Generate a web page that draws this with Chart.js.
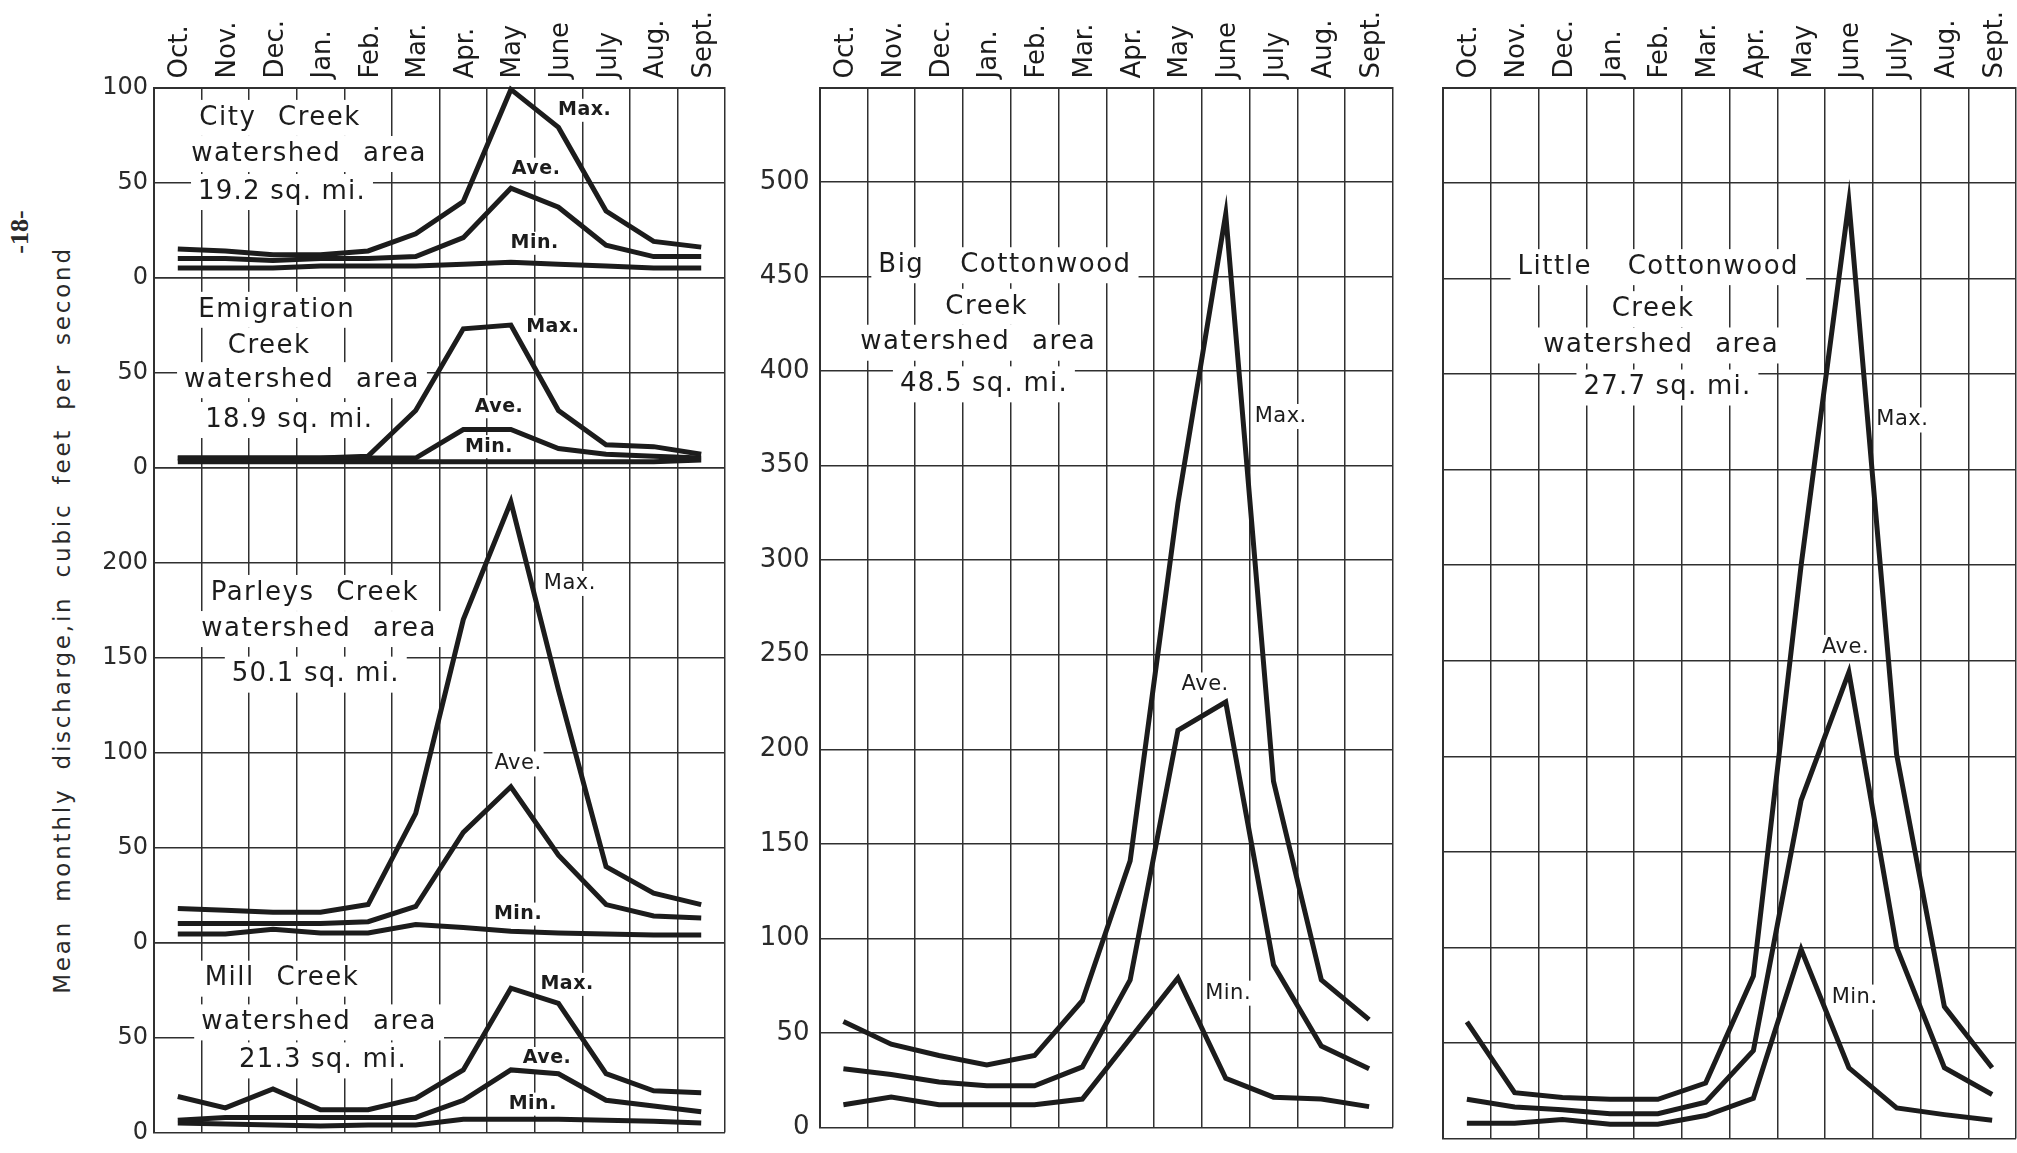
<!DOCTYPE html>
<html>
<head>
<meta charset="utf-8">
<script src="https://cdn.jsdelivr.net/npm/chart.js@4.4.1/dist/chart.umd.min.js"></script>
<style>
  html, body { margin: 0; padding: 0; background: #fff; }
  #page { position: relative; width: 2017px; height: 1153px; overflow: hidden; background: #fff;
          font-family: 'DejaVu Sans', sans-serif; color: #222; }
  .panel { position: absolute; top: 0; height: 1153px; }
  #left  { left: 80px;   width: 660px; }
  #mid   { left: 740px;  width: 680px; }
  #right { left: 1420px; width: 597px; }
  #ytitle { position: absolute; left: 62px; top: 620px; white-space: nowrap;
            transform: translate(-50%, -50%) rotate(-90deg);
            font-size: 23px; letter-spacing: 2.8px; word-spacing: 8px; color: #2a2a2a; }
  #pageno { position: absolute; left: 20px; top: 232px; white-space: nowrap;
            transform: translate(-50%, -50%) rotate(-90deg);
            font-family: 'Liberation Serif', serif; font-weight: bold; font-size: 26px; color: #2a2a2a; }
</style>
</head>
<body>
<div id="page">
  <div id="pageno">-18-</div>
  <div id="ytitle">Mean monthly discharge,in cubic feet per second</div>
  <div class="panel" id="left"><canvas id="left-chart"></canvas></div>
  <div class="panel" id="mid"><canvas id="mid-chart"></canvas></div>
  <div class="panel" id="right"><canvas id="right-chart"></canvas></div>
</div>
<script>
// Mean monthly discharge of Wasatch creeks (cfs), water year Oct..Sept

const months = ['Oct.', 'Nov.', 'Dec.', 'Jan.', 'Feb.', 'Mar.', 'Apr.', 'May', 'June', 'July', 'Aug.', 'Sept.'];

const cityMax = [15, 14, 12, 12, 14, 23, 40, 99, 79, 35, 19, 16];
const cityAve = [10, 10, 9, 10, 10, 11, 21, 47, 37, 17, 11, 11];
const cityMin = [5, 5, 5, 6, 6, 6, 7, 8, 7, 6, 5, 5];

const emigMax = [5, 5, 5, 5, 6, 30, 73, 75, 30, 12, 11, 7];
const emigAve = [5, 5, 5, 5, 5, 5, 20, 20, 10, 7, 6, 5];
const emigMin = [3, 3, 3, 3, 3, 3, 3, 3, 3, 3, 3, 4];

const parlMax = [18, 17, 16, 16, 20, 68, 170, 232, 133, 40, 26, 20];
const parlAve = [10, 10, 10, 10, 11, 19, 58, 82, 46, 20, 14, 13];
const parlMin = [4.5, 4.5, 7, 5, 5, 9.5, 8, 6, 5, 4.5, 4, 4];

const millMax = [19, 13, 23, 12, 12, 18, 33, 76, 68, 31, 22, 21];
const millAve = [6.5, 8, 8, 8, 8, 8, 17, 33, 31, 17, 14, 11];
const millMin = [5, 4.5, 4, 3.5, 4, 4, 7, 7, 7, 6.5, 6, 5];

const bigMax = [56, 44, 38, 33, 38, 67, 141, 330, 483, 183, 78, 57];
const bigAve = [31, 28, 24, 22, 22, 32, 78, 210, 225, 86, 43, 31];
const bigMin = [12, 16, 12, 12, 12, 15, 47, 79, 26, 16, 15, 11];

const littleMax = [61, 24, 21.5, 20.5, 20.5, 29, 85, 300, 490, 201, 69, 37];
const littleAve = [20.5, 16.5, 15, 13, 13, 19, 46, 177, 244, 100, 37, 23];
const littleMin = [8, 8, 10, 7.5, 7.5, 12, 21, 99, 37, 16, 12.5, 9.5];

const FONT = "'DejaVu Sans', sans-serif";
const INK = '#1c1c1c';
const GRID = '#303030';

Chart.defaults.font.family = FONT;
Chart.defaults.color = INK;

function series(data, yAxisID) {
    return {
        data: data,
        yAxisID: yAxisID,
        borderColor: INK,
        borderWidth: 5,
        borderJoinStyle: 'miter',
        pointRadius: 0,
        pointHoverRadius: 0,
        tension: 0,
        fill: false,
        clip: false
    };
}

// text boxes (creek names, Max./Ave./Min.) drawn on white patches over the grid
const TEXT_STYLES = {
    name: { font: '26px ' + FONT, ls: '1.5px', ws: '12px', h: 26, padX: 7, padY: 5 },
    wide: { font: '26px ' + FONT, ls: '1.5px', ws: '26px', h: 26, padX: 7, padY: 5 },
    area: { font: '26px ' + FONT, ls: '1.2px', ws: '0px', h: 26, padX: 7, padY: 5 },
    tagBold: { font: 'bold 19px ' + FONT, ls: '0.5px', ws: '0px', h: 19, padX: 2, padY: 2 },
    tag: { font: '21px ' + FONT, ls: '0.5px', ws: '0px', h: 21, padX: 2, padY: 2 }
};

function note(text, x, y, axis, kind) {
    return { text, x, y, axis, kind };
}

function notesPlugin(items) {
    return {
        id: 'notes',
        beforeDatasetsDraw(chart) {
            const ctx = chart.ctx;
            const xScale = chart.scales.x;
            items.forEach(n => {
                const st = TEXT_STYLES[n.kind];
                const px = xScale.getPixelForValue(n.x);
                const py = chart.scales[n.axis].getPixelForValue(n.y);
                ctx.save();
                ctx.font = st.font;
                if ('letterSpacing' in ctx) ctx.letterSpacing = st.ls;
                if ('wordSpacing' in ctx) ctx.wordSpacing = st.ws;
                const w = ctx.measureText(n.text).width;
                ctx.fillStyle = '#fff';
                ctx.fillRect(px - w / 2 - st.padX, py - st.h / 2 - st.padY, w + 2 * st.padX, st.h + 2 * st.padY);
                ctx.fillStyle = INK;
                ctx.textAlign = 'center';
                ctx.textBaseline = 'middle';
                ctx.fillText(n.text, px, py);
                ctx.restore();
            });
        }
    };
}

function monthAxis() {
    return {
        type: 'category',
        position: 'top',
        offset: true,
        grid: { offset: true, color: GRID, lineWidth: 1.5, drawTicks: false },
        border: { color: GRID, width: 2 },
        ticks: { color: INK, font: { size: 26 }, minRotation: 90, maxRotation: 90, autoSkip: false,
                 padding: 9, labelOffset: 34 },
        afterFit: s => { s.height = 87.5; }
    };
}

function valueAxis(max, opts) {
    return {
        type: 'linear',
        position: 'left',
        min: 0,
        max: max,
        stack: opts.stack,
        stackWeight: opts.stack ? max : undefined,
        weight: opts.weight || 0,
        grid: { color: GRID, lineWidth: 1.5, drawTicks: false },
        border: { color: GRID, width: 2 },
        ticks: {
            display: opts.labels !== false,
            stepSize: 50,
            color: '#2a2a2a',
            font: { size: opts.size || 25 },
            padding: opts.pad || 6,
            callback: v => (v === max && !opts.showTop) ? '' : v
        },
        afterFit: s => { s.width = opts.width; }
    };
}

function baseOptions(scales, padding) {
    return {
        responsive: true,
        maintainAspectRatio: false,
        animation: false,
        layout: { padding: padding },
        plugins: { legend: { display: false }, tooltip: { enabled: false } },
        scales: scales
    };
}

// 1. Four small creeks stacked on one panel
const leftNotes = [
    note('City Creek', 2.15, 84, 'yCity', 'name'),
    note('watershed area', 2.76, 65, 'yCity', 'name'),
    note('19.2 sq. mi.', 2.19, 45, 'yCity', 'area'),
    note('Max.', 8.55, 88, 'yCity', 'tagBold'),
    note('Ave.', 7.53, 57, 'yCity', 'tagBold'),
    note('Min.', 7.5, 18, 'yCity', 'tagBold'),

    note('Emigration', 2.08, 83, 'yEmig', 'name'),
    note('Creek', 1.92, 64, 'yEmig', 'name'),
    note('watershed area', 2.61, 46, 'yEmig', 'name'),
    note('18.9 sq. mi.', 2.34, 25, 'yEmig', 'area'),
    note('Max.', 7.88, 74, 'yEmig', 'tagBold'),
    note('Ave.', 6.75, 32, 'yEmig', 'tagBold'),
    note('Min.', 6.54, 11, 'yEmig', 'tagBold'),

    note('Parleys Creek', 2.88, 184, 'yParl', 'name'),
    note('watershed area', 2.97, 165, 'yParl', 'name'),
    note('50.1 sq. mi.', 2.9, 141, 'yParl', 'area'),
    note('Max.', 8.24, 189, 'yParl', 'tag'),
    note('Ave.', 7.15, 94, 'yParl', 'tag'),
    note('Min.', 7.15, 15, 'yParl', 'tagBold'),

    note('Mill Creek', 2.19, 81, 'yMill', 'name'),
    note('watershed area', 2.97, 58, 'yMill', 'name'),
    note('21.3 sq. mi.', 3.05, 38, 'yMill', 'area'),
    note('Max.', 8.18, 78, 'yMill', 'tagBold'),
    note('Ave.', 7.76, 39, 'yMill', 'tagBold'),
    note('Min.', 7.46, 15, 'yMill', 'tagBold')
];

new Chart(document.getElementById('left-chart').getContext('2d'), {
    type: 'line',
    data: {
        labels: months,
        datasets: [
            series(cityMax, 'yCity'), series(cityAve, 'yCity'), series(cityMin, 'yCity'),
            series(emigMax, 'yEmig'), series(emigAve, 'yEmig'), series(emigMin, 'yEmig'),
            series(parlMax, 'yParl'), series(parlAve, 'yParl'), series(parlMin, 'yParl'),
            series(millMax, 'yMill'), series(millAve, 'yMill'), series(millMin, 'yMill')
        ]
    },
    options: baseOptions({
        x: monthAxis(),
        yMill: valueAxis(100, { stack: 'creeks', weight: 1, width: 74, size: 24 }),
        yParl: valueAxis(250, { stack: 'creeks', weight: 2, width: 74, size: 24 }),
        yEmig: valueAxis(100, { stack: 'creeks', weight: 3, width: 74, size: 24 }),
        yCity: valueAxis(100, { stack: 'creeks', weight: 4, width: 74, size: 24, showTop: true })
    }, { top: 0, left: 0, right: 15, bottom: 14.5 }),
    plugins: [notesPlugin(leftNotes)]
});

// 2. Big Cottonwood Creek
const midNotes = [
    note('Big Cottonwood', 3.38, 456, 'y', 'wide'),
    note('Creek', 3.0, 434, 'y', 'name'),
    note('watershed area', 2.82, 415, 'y', 'name'),
    note('48.5 sq. mi.', 2.94, 393, 'y', 'area'),
    note('Max.', 9.15, 376, 'y', 'tag'),
    note('Ave.', 7.57, 234, 'y', 'tag'),
    note('Min.', 8.05, 71, 'y', 'tag')
];

new Chart(document.getElementById('mid-chart').getContext('2d'), {
    type: 'line',
    data: {
        labels: months,
        datasets: [series(bigMax, 'y'), series(bigAve, 'y'), series(bigMin, 'y')]
    },
    options: baseOptions({
        x: monthAxis(),
        y: valueAxis(550, { width: 79.5, size: 26, pad: 10 })
    }, { top: 0, left: 0, right: 27, bottom: 14.5 }),
    plugins: [notesPlugin(midNotes)]
});

// 3. Little Cottonwood Creek
const rightNotes = [
    note('Little Cottonwood', 4.01, 456, 'y', 'wide'),
    note('Creek', 3.9, 434, 'y', 'name'),
    note('watershed area', 4.07, 415, 'y', 'name'),
    note('27.7 sq. mi.', 4.2, 393, 'y', 'area'),
    note('Max.', 9.12, 376, 'y', 'tag'),
    note('Ave.', 7.93, 257, 'y', 'tag'),
    note('Min.', 8.12, 74, 'y', 'tag')
];

new Chart(document.getElementById('right-chart').getContext('2d'), {
    type: 'line',
    data: {
        labels: months,
        datasets: [series(littleMax, 'y'), series(littleAve, 'y'), series(littleMin, 'y')]
    },
    options: baseOptions({
        x: monthAxis(),
        y: valueAxis(550, { width: 23, labels: false })
    }, { top: 0, left: 0, right: 1, bottom: 14.5 }),
    plugins: [notesPlugin(rightNotes)]
});
</script>
</body>
</html>
